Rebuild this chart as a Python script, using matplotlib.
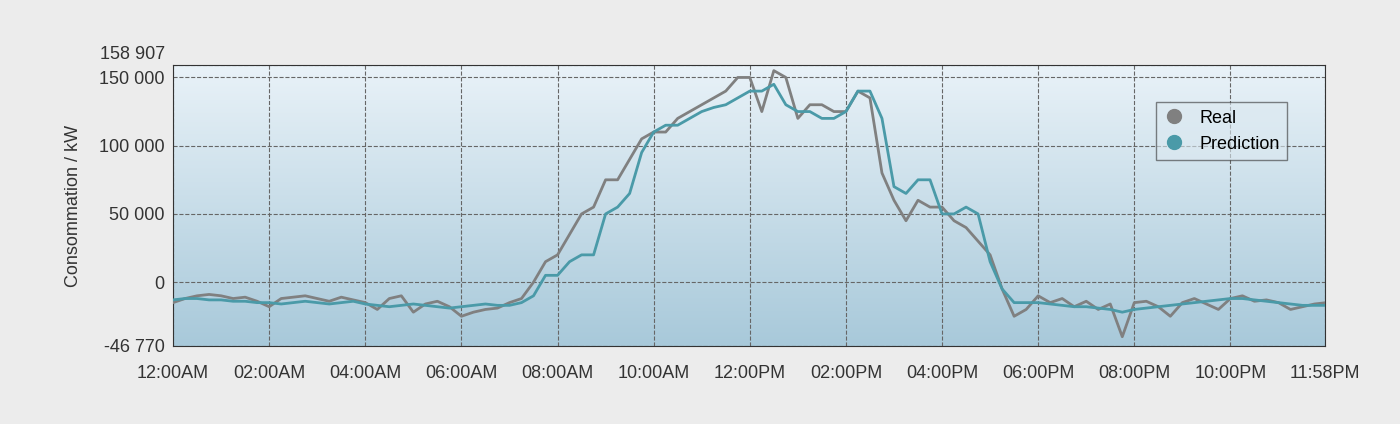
import numpy as np
import matplotlib.pyplot as plt
import matplotlib.transforms as mtransforms
from matplotlib.colors import LinearSegmentedColormap
from matplotlib.lines import Line2D

plt.rcParams['font.family'] = ['Liberation Sans', 'DejaVu Sans']

# valeurs toutes les 15 min, en kW
real = [-15, -12, -10, -9, -10, -12, -11, -14, -18, -12, -11, -10, -12, -14, -11, -13,
        -15, -20, -12, -10, -22, -16, -14, -18, -25, -22, -20, -19, -15, -12, 0, 15,
        20, 35, 50, 55, 75, 75, 90, 105, 110, 110, 120, 125, 130, 135, 140, 150,
        150, 125, 155, 150, 120, 130, 130, 125, 125, 140, 135, 80, 60, 45, 60, 55,
        55, 45, 40, 30, 20, -5, -25, -20, -10, -15, -12, -18, -14, -20, -16, -40,
        -15, -14, -18, -25, -15, -12, -16, -20, -12, -10, -14, -13, -15, -20, -18, -16, -15]
pred = [-13, -12, -12, -13, -13, -14, -14, -15, -15, -16, -15, -14, -15, -16, -15, -14,
        -16, -17, -18, -17, -16, -17, -18, -19, -18, -17, -16, -17, -17, -15, -10, 5,
        5, 15, 20, 20, 50, 55, 65, 95, 110, 115, 115, 120, 125, 128, 130, 135,
        140, 140, 145, 130, 125, 125, 120, 120, 125, 140, 140, 120, 70, 65, 75, 75,
        50, 50, 55, 50, 15, -5, -15, -15, -15, -16, -17, -18, -18, -19, -20, -22,
        -20, -19, -18, -17, -16, -15, -14, -13, -12, -12, -13, -14, -15, -16, -17, -17, -17]
hours = np.arange(len(real)) * 0.25
real = np.array(real) * 1000
pred = np.array(pred) * 1000

tick_hours = [0, 2, 4, 6, 8, 10, 12, 14, 16, 18, 20, 22, 23.967]
tick_labels = ['12:00AM', '02:00AM', '04:00AM', '06:00AM', '08:00AM', '10:00AM', '12:00PM',
               '02:00PM', '04:00PM', '06:00PM', '08:00PM', '10:00PM', '11:58PM']
y_ticks = [-46770, 0, 50000, 100000, 150000, 158907]
y_labels = ['-46 770', '0', '50 000', '100 000', '150 000', '158 907']

fig = plt.figure(figsize=(14, 4.24), dpi=100, facecolor='#ececec')
ax = fig.add_axes([0.1236, 0.184, 0.8228, 0.662])
ymin, ymax = -46770, 158907

cmap = LinearSegmentedColormap.from_list('bg', ['#e9f2f8', '#a8c9da'])
ax.imshow(np.linspace(0, 1, 256)[:, None], aspect='auto', cmap=cmap,
          extent=[0, 23.967, ymin, ymax], origin='upper', zorder=0)

ax.plot(hours, real, color='#808080', lw=2, zorder=3)
ax.plot(hours, pred, color='#4a9aa8', lw=2, zorder=4)

ax.set_xlim(0, 23.967)
ax.set_ylim(ymin, ymax)
ax.set_xticks(tick_hours)
ax.set_xticklabels(tick_labels)
ax.set_yticks(y_ticks)
ax.set_yticklabels(y_labels)
ax.tick_params(labelsize=13, colors='#333333', length=0)
ax.tick_params(axis='x', pad=14)
ax.tick_params(axis='y', pad=6)
ax.grid(True, ls='--', color='#666666', lw=0.8)
ax.set_ylabel('Consommation / kW', fontsize=13, color='#333333', labelpad=12)
for s in ax.spines.values():
    s.set_color('#333333')

# nudge the top tick label up so it clears 150 000
top = ax.get_yticklabels()[-1]
top.set_transform(top.get_transform() + mtransforms.ScaledTranslation(0, 0.13, fig.dpi_scale_trans))

handles = [Line2D([], [], ls='none', marker='o', ms=10, color='#808080'),
           Line2D([], [], ls='none', marker='o', ms=10, color='#4a9aa8')]
leg = ax.legend(handles, ['Real', 'Prediction'], loc='upper right',
                bbox_to_anchor=(0.975, 0.9), fontsize=13, handlelength=1.2,
                fancybox=False, framealpha=0.6, edgecolor='#333333', facecolor='#dce9f1')

fig.savefig('out.png', dpi=100, facecolor=fig.get_facecolor())
